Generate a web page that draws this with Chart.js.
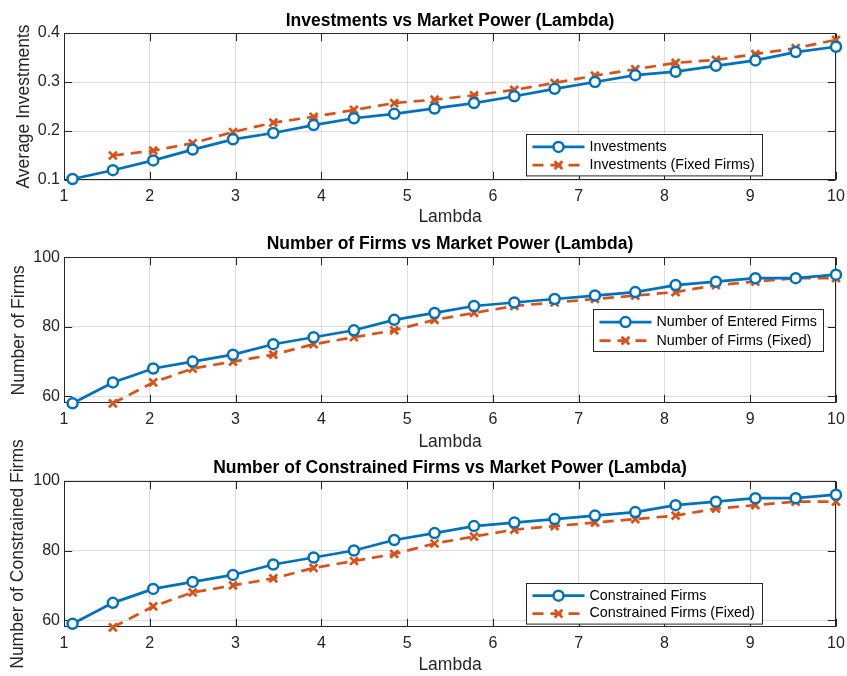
<!DOCTYPE html>
<html><head><meta charset="utf-8">
<script src="https://cdn.jsdelivr.net/npm/chart.js@4/dist/chart.umd.min.js"></script>
<style>
html,body{margin:0;padding:0;background:#fff;}
#wrap{position:relative;width:847px;height:676px;background:#fff;}
canvas{position:absolute;left:0;}
</style></head><body>
<div id="wrap">
<canvas id="c1" width="847" height="230" style="top:0px"></canvas>
<canvas id="c2" width="847" height="225" style="top:230px"></canvas>
<canvas id="c3" width="847" height="256" style="top:420px"></canvas>
</div>
<script>
const lambda = [1.1, 1.57, 2.04, 2.5, 2.97, 3.44, 3.91, 4.38, 4.85, 5.32, 5.78, 6.25, 6.72, 7.19, 7.66, 8.13, 8.6, 9.06, 9.53, 10];
const investments = [0.102, 0.120, 0.140, 0.162, 0.183, 0.196, 0.212, 0.226, 0.235, 0.246, 0.257, 0.271, 0.286, 0.300, 0.314, 0.321, 0.333, 0.344, 0.361, 0.372];
const investmentsFixed = [null, 0.150, 0.160, 0.175, 0.198, 0.217, 0.229, 0.243, 0.257, 0.264, 0.273, 0.284, 0.298, 0.313, 0.326, 0.339, 0.345, 0.357, 0.369, 0.386];
const enteredFirms = [58, 64, 68, 70, 72, 75, 77, 79, 82, 84, 86, 87, 88, 89, 90, 92, 93, 94, 94, 95];
const firmsFixed = [null, 58, 64, 68, 70, 72, 75, 77, 79, 82, 84, 86, 87, 88, 89, 90, 92, 93, 94, 94];
const constrainedFirms = [59, 65, 69, 71, 73, 76, 78, 80, 83, 85, 87, 88, 89, 90, 91, 93, 94, 95, 95, 96];
const constrainedFixed = [null, 58, 64, 68, 70, 72, 75, 77, 79, 82, 84, 86, 87, 88, 89, 90, 92, 93, 94, 94];
const xTicks = [1, 2, 3, 4, 5, 6, 7, 8, 9, 10];
const yTicksInv = [0.1, 0.2, 0.3, 0.4];
const yTicksFirms = [60, 80, 100];

const BLUE = '#0072BD', ORANGE = '#D95319', AX = '#262626', GRID = 'rgba(38,38,38,0.15)';
const FONT = '"Liberation Sans", Arial, Helvetica, sans-serif';
const TICKLEN = 7.7;

const frame = {
  id: 'frame',
  beforeDatasetsDraw(chart) {
    const ctx = chart.ctx, a = chart.chartArea, xs = chart.scales.x, ys = chart.scales.y;
    ctx.save();
    ctx.strokeStyle = AX; ctx.lineWidth = 1; ctx.setLineDash([]);
    const L = Math.round(a.left) + 0.5, R = Math.round(a.right) - 0.5, T = Math.round(a.top) + 0.5, B = Math.round(a.bottom) - 0.5;
    ctx.beginPath();
    xs.ticks.forEach(t => {
      const p = Math.round(xs.getPixelForValue(t.value)) + 0.5;
      ctx.moveTo(p, B); ctx.lineTo(p, B - TICKLEN);
      ctx.moveTo(p, T); ctx.lineTo(p, T + TICKLEN);
    });
    ys.ticks.forEach(t => {
      const p = Math.round(ys.getPixelForValue(t.value)) + 0.5;
      ctx.moveTo(L, p); ctx.lineTo(L + TICKLEN, p);
      ctx.moveTo(R, p); ctx.lineTo(R - TICKLEN, p);
    });
    ctx.stroke();
    ctx.strokeRect(L, T, R - L, B - T);
    ctx.restore();
  },
  afterDraw(chart) {
    const opt = chart.options.plugins.frame;
    if (!opt || !opt.legend) return;
    const lg = opt.legend, a = chart.chartArea, ctx = chart.ctx;
    const bx = Math.round(a.right - lg.right - lg.width) + 0.5;
    const by = Math.round(lg.top != null ? a.top + lg.top : a.bottom - lg.bottom - lg.height) + 0.5;
    ctx.save();
    ctx.fillStyle = '#fff'; ctx.fillRect(bx, by, lg.width, lg.height);
    ctx.strokeStyle = AX; ctx.lineWidth = 1; ctx.strokeRect(bx, by, lg.width, lg.height);
    chart.data.datasets.forEach((ds, i) => {
      const yy = by + lg.height * (i === 0 ? 0.3 : 0.74);
      ctx.strokeStyle = ds.borderColor; ctx.lineWidth = ds.borderWidth;
      ctx.setLineDash(ds.borderDash || []);
      ctx.beginPath(); ctx.moveTo(bx + 6, yy); ctx.lineTo(bx + 58, yy); ctx.stroke();
      ctx.setLineDash([]);
      ctx.lineWidth = ds.pointBorderWidth;
      const mx = bx + 32, r = ds.pointRadius;
      ctx.beginPath();
      if (ds.pointStyle === 'circle') {
        ctx.fillStyle = '#fff';
        ctx.arc(mx, yy, r, 0, Math.PI * 2); ctx.fill(); ctx.stroke();
      } else {
        const d = r * Math.SQRT1_2;
        ctx.moveTo(mx - d, yy - d); ctx.lineTo(mx + d, yy + d);
        ctx.moveTo(mx + d, yy - d); ctx.lineTo(mx - d, yy + d); ctx.stroke();
      }
      ctx.fillStyle = '#000'; ctx.font = '14.3px ' + FONT; ctx.textBaseline = 'middle'; ctx.textAlign = 'left';
      ctx.fillText(ds.label, bx + 63, yy);
    });
    ctx.restore();
  }
};

function series(vals) { return lambda.map((x, i) => ({ x: x, y: vals[i] })); }

function makeChart(id, cfg) {
  return new Chart(document.getElementById(id), {
    type: 'line',
    data: {
      datasets: [
        { label: cfg.labels[0], data: series(cfg.s1), borderColor: BLUE, backgroundColor: BLUE, borderWidth: 2.7,
          pointStyle: 'circle', pointRadius: 5, pointBorderWidth: 2.5, pointBackgroundColor: '#fff', pointBorderColor: BLUE, clip: false, tension: 0 },
        { label: cfg.labels[1], data: series(cfg.s2), borderColor: ORANGE, backgroundColor: ORANGE, borderWidth: 2.7, borderDash: [11, 7],
          pointStyle: 'crossRot', pointRadius: 5.5, pointBorderWidth: 2.7, pointBorderColor: ORANGE, clip: false, tension: 0, spanGaps: false }
      ]
    },
    options: {
      responsive: false, animation: false, devicePixelRatio: 1,
      layout: { padding: { left: 0, right: 11, top: cfg.padTop, bottom: 0 } },
      plugins: {
        legend: { display: false }, tooltip: { enabled: false },
        title: { display: true, text: cfg.title, fullSize: false, color: '#000',
          font: { family: FONT, size: 17.5, weight: 'bold' }, padding: { top: cfg.tpt, bottom: cfg.tpb } },
        frame: { legend: cfg.legend }
      },
      scales: {
        x: {
          type: 'linear', min: 1, max: 10,
          afterBuildTicks: s => { s.ticks = xTicks.map(v => ({ value: v })); },
          afterFit: s => { s.height = cfg.xh; s.paddingLeft = 0; s.paddingRight = 0; },
          grid: { color: GRID, drawTicks: false, lineWidth: 1 },
          border: { display: false },
          ticks: { padding: 7, color: AX, font: { family: FONT, size: 16 }, maxRotation: 0, autoSkip: false },
          title: { display: true, text: 'Lambda', color: AX, font: { family: FONT, size: 17.5 }, padding: { top: 0, bottom: cfg.xtp } }
        },
        y: {
          type: 'linear', min: cfg.ymin, max: cfg.ymax,
          afterBuildTicks: s => { s.ticks = cfg.yt.map(v => ({ value: v })); },
          afterFit: s => { s.width = 64; s.paddingTop = 0; s.paddingBottom = 0; },
          grid: { color: GRID, drawTicks: false, lineWidth: 1 },
          border: { display: false },
          ticks: { padding: 4, color: AX, font: { family: FONT, size: 16 }, autoSkip: false, callback: v => String(v) },
          title: { display: true, text: cfg.ylabel, color: AX, font: { family: FONT, size: 17.5 }, padding: { top: cfg.ytp, bottom: 0 } }
        }
      }
    },
    plugins: [frame]
  });
}

makeChart('c1', {
  title: 'Investments vs Market Power (Lambda)', ylabel: 'Average Investments',
  labels: ['Investments', 'Investments (Fixed Firms)'], s1: investments, s2: investmentsFixed,
  ymin: 0.1, ymax: 0.4, yt: yTicksInv, padTop: 0,
  xh: 50, xtp: 2.8, ytp: 13.2, tpt: 10.5, tpb: 1.5,
  legend: { right: 74, bottom: 4.3, width: 236, height: 41.4 }
});
makeChart('c2', {
  title: 'Number of Firms vs Market Power (Lambda)', ylabel: 'Number of Firms',
  labels: ['Number of Entered Firms', 'Number of Firms (Fixed)'], s1: enteredFirms, s2: firmsFixed,
  ymin: 58, ymax: 100, yt: yTicksFirms, padTop: 0,
  xh: 51.7, xtp: 2.0, ytp: 8.7, tpt: 3.3, tpb: 3.0,
  legend: { right: 12.7, top: 51.7, width: 230, height: 42 }
});
makeChart('c3', {
  title: 'Number of Constrained Firms vs Market Power (Lambda)', ylabel: 'Number of Constrained Firms',
  labels: ['Constrained Firms', 'Constrained Firms (Fixed)'], s1: constrainedFirms, s2: constrainedFixed,
  ymin: 58, ymax: 100, yt: yTicksFirms, padTop: 35,
  xh: 48.7, xtp: 0, ytp: 7.8, tpt: 2.7, tpb: 2.0,
  legend: { right: 74, bottom: 4, width: 236, height: 40.6 }
});
</script>
</body></html>
